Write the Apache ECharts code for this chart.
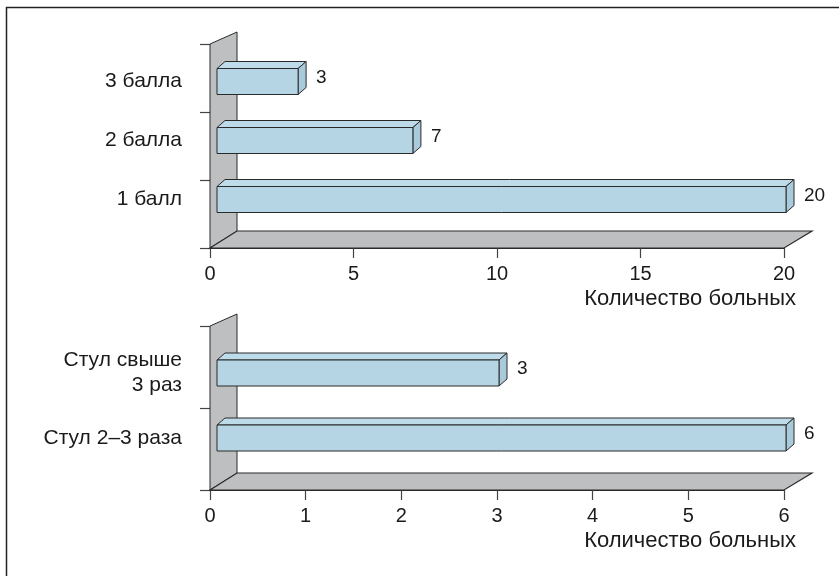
<!DOCTYPE html>
<html>
<head>
<meta charset="utf-8">
<script src="https://cdn.jsdelivr.net/npm/echarts@6/dist/echarts.min.js"></script>
<style>
  html, body { margin: 0; padding: 0; background: #fff; }
  #chart { width: 839px; height: 576px; }
</style>
</head>
<body>
<div id="chart"></div>
<script>
// Severity score: number of patients per score (top to bottom)
const scoreCategories = ['3 балла', '2 балла', '1 балл'];
const scoreValues = [3, 7, 20];
const scoreTicks = { min: 0, max: 20, interval: 5 };

// Stool frequency: number of patients (top to bottom)
const stoolCategories = ['Стул свыше\n3 раз', 'Стул 2–3 раза'];
const stoolValues = [3, 6];
const stoolTicks = { min: 0, max: 6, interval: 1 };

const axisName = 'Количество больных';

const FONT = '"Liberation Sans", Arial, Helvetica, sans-serif';
const TEXT = '#1a1a1a';
const GREY = '#bebfc1';
const EDGE = '#2a2a2a';
const BAR_FRONT = '#b5d5e4';
const BAR_TOP = '#bddbe8';
const BAR_SIDE = '#a9cadb';

// Wall and floor of a pseudo-3D frame, built from the grid rectangle
function renderFrame(params, api) {
  const cs = params.coordSys;
  const L = cs.x, T = cs.y, B = cs.y + cs.height, R = cs.x + cs.width;
  const dx = 27, dyFloor = -17, dyTop = -12;
  return {
    type: 'group',
    children: [
      {
        type: 'polygon',
        shape: { points: [[L, B], [L, T], [L + dx, T + dyTop], [L + dx, B + dyFloor]] },
        style: { fill: GREY, stroke: EDGE, lineWidth: 1 }
      },
      {
        type: 'polygon',
        shape: { points: [[L, B], [L + dx, B + dyFloor], [R + dx + 1, B + dyFloor], [R, B]] },
        style: { fill: GREY, stroke: EDGE, lineWidth: 1.2 }
      }
    ]
  };
}

// Box-shaped horizontal bar with a top face, a side face and a value label
function renderBar(params, api) {
  const value = api.value(0);
  const cat = api.value(1);
  const p0 = api.coord([0, cat]);
  const p1 = api.coord([value, cat]);
  const h = 26, dx = 8, dy = -7;
  const xl = p0[0] + 7, xr = p1[0] + 2;
  const yt = p0[1] - h / 2, yb = p0[1] + h / 2;
  const st = (fill) => ({ fill: fill, stroke: EDGE, lineWidth: 1, lineJoin: 'round' });
  return {
    type: 'group',
    children: [
      { type: 'polygon', shape: { points: [[xl, yt], [xl + dx, yt + dy], [xr + dx, yt + dy], [xr, yt]] }, style: st(BAR_TOP) },
      { type: 'polygon', shape: { points: [[xr, yt], [xr + dx, yt + dy], [xr + dx, yb + dy], [xr, yb]] }, style: st(BAR_SIDE) },
      { type: 'rect', shape: { x: xl, y: yt, width: xr - xl, height: h }, style: st(BAR_FRONT) },
      {
        type: 'text',
        x: xr + dx + 10, y: p0[1] - 4,
        style: { text: String(value), fill: TEXT, font: '19px ' + FONT, textAlign: 'left', textVerticalAlign: 'middle' }
      }
    ]
  };
}

function frameXAxis(gridIndex, ticks) {
  return {
    gridIndex: gridIndex, type: 'value',
    min: ticks.min, max: ticks.max, interval: ticks.interval,
    splitLine: { show: false },
    axisLine: { show: true, onZero: false, lineStyle: { color: EDGE, width: 1.2 } },
    axisTick: { show: true, length: 10, lineStyle: { color: '#444', width: 1.2 } },
    axisLabel: { show: true, margin: 16, color: TEXT, fontSize: 20, fontFamily: FONT },
    name: axisName, nameLocation: 'end', nameGap: 12,
    nameTextStyle: { color: TEXT, fontSize: 22, fontFamily: FONT, align: 'right', verticalAlign: 'top', padding: [40, 0, 0, 0] }
  };
}

function barXAxis(gridIndex, ticks) {
  return {
    gridIndex: gridIndex, type: 'value', show: false,
    min: ticks.min, max: ticks.max, interval: ticks.interval
  };
}

function frameYAxis(gridIndex, cats) {
  return {
    gridIndex: gridIndex, type: 'category', data: cats, inverse: true,
    axisLine: { show: false },
    axisTick: { show: true, length: 10, interval: 0, lineStyle: { color: '#444', width: 1.2 } },
    axisLabel: { show: false }
  };
}

function barYAxis(gridIndex, cats, shift) {
  return {
    gridIndex: gridIndex, type: 'category', data: cats, inverse: true,
    axisLine: { show: false }, axisTick: { show: false },
    axisLabel: {
      show: true, margin: 28, color: TEXT, fontSize: 21, fontFamily: FONT,
      align: 'right', lineHeight: 25, padding: [0, 0, shift, 0]
    }
  };
}

const chart = echarts.init(document.getElementById('chart'), null, { renderer: 'canvas' });

chart.setOption({
  animation: false,
  backgroundColor: '#fff',
  graphic: [{
    type: 'rect', left: 4, top: 5, z: 100,
    shape: { width: 900, height: 700 },
    style: { fill: 'none', stroke: '#222', lineWidth: 1.5 }
  }],
  grid: [
    { left: 210, right: 55, top: 44, height: 204 },     // top frame
    { left: 210, right: 55, top: 52, height: 177 },     // top bars
    { left: 210, right: 55, top: 326, height: 164 },    // bottom frame
    { left: 210, right: 55, top: 340.5, height: 130 }   // bottom bars
  ],
  xAxis: [
    frameXAxis(0, scoreTicks),
    barXAxis(1, scoreTicks),
    frameXAxis(2, stoolTicks),
    barXAxis(3, stoolTicks)
  ],
  yAxis: [
    frameYAxis(0, scoreCategories),
    barYAxis(1, scoreCategories, 6),
    frameYAxis(2, stoolCategories),
    barYAxis(3, stoolCategories, 8)
  ],
  series: [
    {
      type: 'custom', xAxisIndex: 0, yAxisIndex: 0, clip: false, z: 1, silent: true,
      renderItem: renderFrame, data: [[0, 0]]
    },
    {
      type: 'custom', xAxisIndex: 1, yAxisIndex: 1, clip: false, z: 5, silent: true,
      renderItem: renderBar,
      data: scoreValues.map((v, i) => [v, i])
    },
    {
      type: 'custom', xAxisIndex: 2, yAxisIndex: 2, clip: false, z: 1, silent: true,
      renderItem: renderFrame, data: [[0, 0]]
    },
    {
      type: 'custom', xAxisIndex: 3, yAxisIndex: 3, clip: false, z: 5, silent: true,
      renderItem: renderBar,
      data: stoolValues.map((v, i) => [v, i])
    }
  ]
});
</script>
</body>
</html>
